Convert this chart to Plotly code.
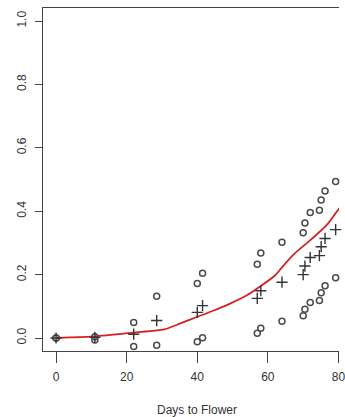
import plotly.graph_objects as go

# Days to flower (x positions of observations)
days = [0, 11, 22, 28.5, 40, 41.5, 57, 58, 64, 70, 70.5, 72, 74.6, 75.1, 76.2, 79.2]
upper = [0.0, 0.004, 0.049, 0.132, 0.172, 0.204, 0.233, 0.268, 0.302, 0.332, 0.363, 0.396, 0.403, 0.435, 0.464, 0.494]
mean = [0.0, 0.002, 0.012, 0.055, 0.081, 0.102, 0.125, 0.149, 0.176, 0.200, 0.227, 0.254, 0.260, 0.288, 0.314, 0.342]
lower = [0.0, -0.006, -0.027, -0.023, -0.012, 0.001, 0.015, 0.031, 0.053, 0.070, 0.091, 0.112, 0.118, 0.143, 0.165, 0.190]

# fitted curve
fit_days = [0, 11, 22, 30.6, 35.2, 40, 44.5, 49, 53.8, 58, 62.1, 64, 67.6, 72.3, 76.9, 79.5, 81]
fit_vals = [0.0, 0.005, 0.017, 0.027, 0.046, 0.067, 0.086, 0.107, 0.133, 0.164, 0.198, 0.223, 0.267, 0.311, 0.359, 0.398, 0.42]

x_ticks = [0, 20, 40, 60, 80]
y_ticks = [0.0, 0.2, 0.4, 0.6, 0.8, 1.0]
y_tick_text = ["0.0", "0.2", "0.4", "0.6", "0.8", "1.0"]

axis_col = "#444444"
pt_col = "#4a4a4a"
font = "Liberation Sans, Arial, sans-serif"

fig = go.Figure()
fig.add_trace(go.Scatter(x=fit_days, y=fit_vals, mode="lines",
                         line=dict(color="#d42020", width=1.8, shape="spline", smoothing=0.6),
                         hoverinfo="skip", showlegend=False))
fig.add_trace(go.Scatter(x=days, y=upper, mode="markers",
                         marker=dict(symbol="circle-open", size=6, line=dict(width=1.5, color=pt_col), color=pt_col),
                         showlegend=False, cliponaxis=False))
fig.add_trace(go.Scatter(x=days, y=lower, mode="markers",
                         marker=dict(symbol="circle-open", size=6, line=dict(width=1.5, color=pt_col), color=pt_col),
                         showlegend=False, cliponaxis=False))
fig.add_trace(go.Scatter(x=days, y=mean, mode="markers",
                         marker=dict(symbol="cross-thin-open", size=8, line=dict(width=1.4, color="#333333"), color="#333333"),
                         showlegend=False, cliponaxis=False))

fig.update_layout(
    width=345, height=417,
    margin=dict(l=43, r=0, t=8, b=66),
    paper_bgcolor="white", plot_bgcolor="white",
    font=dict(family=font, size=12, color="#333333"),
    xaxis=dict(range=[-3.7, 80.15], tickvals=x_ticks, ticks="outside", ticklen=11, tickwidth=1,
               tickcolor=axis_col, showline=True, linecolor=axis_col, linewidth=1, mirror=True,
               showgrid=False, zeroline=False, tickfont=dict(size=12, color="#333333"),
               ticklabeloverflow="allow", ticklabelstandoff=4),
    yaxis=dict(range=[-0.041, 1.041], tickvals=y_ticks, ticktext=y_tick_text, ticks="outside", ticklen=7,
               tickwidth=1, tickcolor=axis_col, showline=True, linecolor=axis_col, linewidth=1,
               showgrid=False, zeroline=False, tickangle=-90, tickfont=dict(size=12, color="#333333"),
               ticklabelstandoff=4),
    annotations=[dict(text="Days to Flower", x=40, xref="x", y=-0.172, yref="paper",
                      xanchor="center", yanchor="middle", showarrow=False,
                      font=dict(size=12, color="#333333"))],
)

fig.write_html("out.html", config={"displayModeBar": False},
               post_script="document.body.style.margin='0';document.body.style.overflow='hidden';"
                           "document.documentElement.style.overflow='hidden';")
